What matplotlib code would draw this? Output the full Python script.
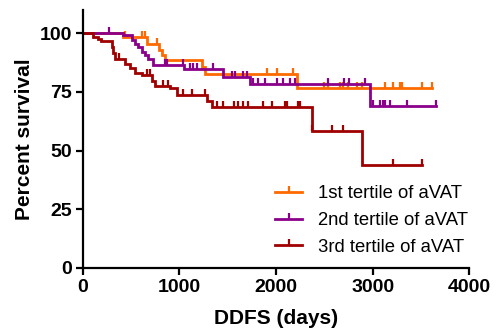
import numpy as np
from matplotlib import pyplot as plt
from matplotlib.lines import Line2D

plt.rcParams['font.family'] = ['Liberation Sans', 'DejaVu Sans']

# step points (day, percent survival)
t1 = [0, 414, 660, 787, 820, 855, 1233, 1260, 2220]
s1 = [100, 98.5, 95.5, 93, 90.5, 88.5, 85.5, 82.5, 76.6]
c1 = [435, 611, 642, 767, 1906, 2010, 2176, 2497, 2538, 2663, 2694, 2745,
      2839, 2891, 3129, 3212, 3284, 3305, 3512]
end1 = 3616

t2 = [0, 418, 504, 539, 573, 608, 642, 677, 722, 1046, 1454, 1730, 2974]
s2 = [100, 99, 97, 95.5, 94, 92, 90.5, 89, 86.4, 84.5, 81.3, 78.2, 69]
c2 = [269, 850, 870, 1036, 1108, 1140, 1181, 1347, 1544, 1575, 1658, 1699,
      1761, 1813, 1886, 2010, 2072, 2145, 2200, 2538, 2700, 2760, 2922,
      3004, 3077, 3108, 3129, 3181, 3357]
end2 = 3657

t3 = [0, 107, 159, 183, 297, 314, 332, 435, 487, 539, 608, 711, 746, 901,
      970, 1281, 1333, 2372, 2890]
s3 = [100, 98.5, 97.5, 96.5, 94, 91.5, 89, 87, 85, 83, 82, 79.5, 77.5, 76.5,
      73.5, 71, 68.7, 58.4, 43.8]
c3 = [373, 663, 694, 829, 881, 1036, 1129, 1264, 1390, 1450, 1560, 1610,
      1660, 1710, 1860, 1960, 2090, 2110, 2230, 2250, 2372, 2580, 2694, 3212]
end3 = 3512

labels = ['1st tertile of aVAT', '2nd tertile of aVAT', '3rd tertile of aVAT']
colors = ['#FF6A00', '#8B008B', '#A00000']

fig = plt.figure(figsize=(4.96, 3.3), dpi=100)
ax = fig.add_axes([0.167, 0.188, 0.779, 0.783])

handles = []
for t, s, c, e, col, lab in zip([t1, t2, t3], [s1, s2, s3], [c1, c2, c3],
                                [end1, end2, end3], colors, labels):
    tt = np.array(t + [e])
    ss = np.array(s + [s[-1]])
    ax.step(tt, ss, where='post', color=col, lw=2.0, solid_joinstyle='miter')
    idx = np.searchsorted(t, c, side='right') - 1
    cs = np.array(s)[idx]
    ax.plot(c + [e], list(cs) + [s[-1]], ls='none', marker=2, ms=4, mew=1.6,
            color=col)
    handles.append(Line2D([], [], color=col, lw=2.0, marker=2, ms=4, mew=1.6))

ax.set_xlim(0, 4000)
ax.set_ylim(0, 110)
ax.set_xticks([0, 1000, 2000, 3000, 4000])
ax.set_yticks([0, 25, 50, 75, 100])
for sp in ['top', 'right']:
    ax.spines[sp].set_visible(False)
for sp in ['left', 'bottom']:
    ax.spines[sp].set_linewidth(1.6)
ax.tick_params(width=1.6, length=5, labelsize=14, pad=3)
for lbl in ax.get_xticklabels() + ax.get_yticklabels():
    lbl.set_fontweight('bold')
ax.set_xlabel('DDFS (days)', fontsize=15, fontweight='bold', labelpad=9)
ax.set_ylabel('Percent survival', fontsize=15, fontweight='bold', labelpad=4)

ax.legend(handles, labels, loc='upper left', bbox_to_anchor=(0.474, 0.355),
          frameon=False, fontsize=13.3, handlelength=1.46, handletextpad=0.86,
          labelspacing=0.52, borderpad=0)

fig.savefig('out.png', dpi=100)
